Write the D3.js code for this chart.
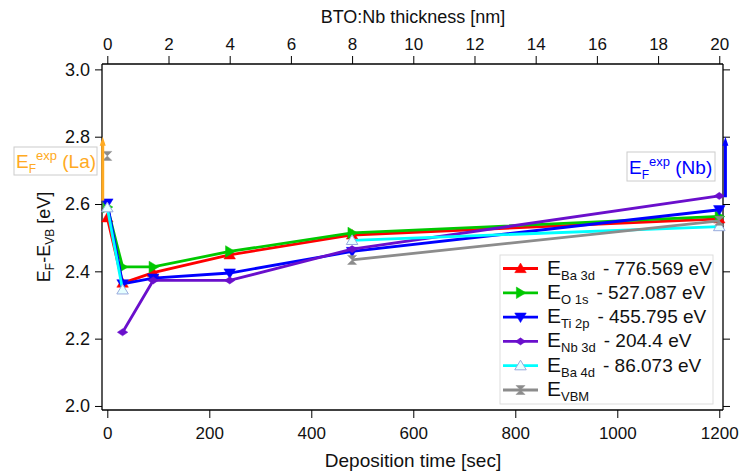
<!DOCTYPE html>
<html><head><meta charset="utf-8">
<script src="https://cdn.jsdelivr.net/npm/d3@7"></script>
<style>body{margin:0;background:#fff}svg{font-family:"Liberation Sans",Arial,sans-serif}</style>
</head><body><svg id="c" width="741" height="476"></svg>
<script>
const times = [0, 30, 90, 240, 480, 1200];
const ba3d = [2.559, 2.365, 2.396, 2.449, 2.508, 2.556];
const o1s  = [2.591, 2.413, 2.413, 2.459, 2.514, 2.563];
const ti2p = [2.603, 2.363, 2.380, 2.395, 2.459, 2.583];
const nb3d = [null, 2.219, 2.373, 2.373, 2.466, 2.624];
const ba4d = [2.589, 2.345, null, null, 2.492, 2.533];
const evbm = [2.743, null, null, null, 2.434, 2.550];
const seriesNames = ["Ba 3d", "O 1s", "Ti 2p", "Nb 3d", "Ba 4d", "VBM"];
const seriesOffsets = ["- 776.569 eV", "- 527.087 eV", "- 455.795 eV", "- 204.4 eV", "- 86.073 eV", ""];
const xTicks = [0, 200, 400, 600, 800, 1000, 1200];
const topTicks = [0, 2, 4, 6, 8, 10, 12, 14, 16, 18, 20];
const yTicks = [2.0, 2.2, 2.4, 2.6, 2.8, 3.0];
const laArrow = {t: -9, y0: 2.61, y1: 2.80};
const nbArrow = {t: 1212, y0: 2.62, y1: 2.80};

const svg = d3.select("#c");
const x = d3.scaleLinear().domain([-10.4, 1207.3]).range([102, 723]);
const xt = d3.scaleLinear().domain([-10.4/60, 1207.3/60]).range([102, 723]);
const y = d3.scaleLinear().domain([1.988, 3.016]).range([410, 64]);

const fs = 17;
const gB = svg.append("g").attr("transform","translate(0,410)")
  .call(d3.axisBottom(x).tickValues(xTicks).tickSize(8).tickPadding(9).tickFormat(d3.format("d")));
const gT = svg.append("g").attr("transform","translate(0,64)")
  .call(d3.axisTop(xt).tickValues(topTicks).tickSize(8).tickPadding(6).tickFormat(d3.format("d")));
const gL = svg.append("g").attr("transform","translate(102,0)")
  .call(d3.axisLeft(y).tickValues(yTicks).tickSize(7).tickPadding(5).tickFormat(d3.format(".1f")));
const gR = svg.append("g").attr("transform","translate(723,0)")
  .call(d3.axisRight(y).tickValues(yTicks).tickSize(7).tickFormat(""));
[gB,gT,gL,gR].forEach(g=>{
  g.selectAll("path.domain").attr("stroke","#000").attr("stroke-width",1.3);
  g.selectAll(".tick line").attr("stroke","#000").attr("stroke-width",1);
  g.selectAll(".tick text").attr("font-size",fs).attr("fill","#111").attr("font-family","Liberation Sans, Arial");
});
gL.selectAll(".tick text").attr("font-size",18);
gB.selectAll("path.domain").attr("d","M102,0H723");
gT.selectAll("path.domain").attr("d","M102,0H723");
gL.selectAll("path.domain").attr("d","M0,64V410");
gR.selectAll("path.domain").attr("d","M0,64V410");

svg.append("text").attr("x",413).attr("y",467).attr("text-anchor","middle").attr("font-size",19).attr("fill","#111").text("Deposition time [sec]");
svg.append("text").attr("x",413).attr("y",23).attr("text-anchor","middle").attr("font-size",18).attr("fill","#111").text("BTO:Nb thickness [nm]");
const yl = svg.append("text").attr("transform","translate(50,237) rotate(-90)").attr("text-anchor","middle").attr("font-size",18).attr("fill","#111");
yl.append("tspan").text("E");
yl.append("tspan").attr("font-size",12).attr("dy",4).text("F");
yl.append("tspan").attr("dy",-4).text("-E");
yl.append("tspan").attr("font-size",12).attr("dy",4).text("VB");
yl.append("tspan").attr("dy",-4).text(" [eV]");

const markerPaths = {
  up: s => `M0,${-s}L${s*1.05},${s*0.75}L${-s*1.05},${s*0.75}Z`,
  right: s => `M${s},0L${-s*0.75},${s*1.05}L${-s*0.75},${-s*1.05}Z`,
  down: s => `M0,${s}L${s*1.05},${-s*0.75}L${-s*1.05},${-s*0.75}Z`,
  diamond: s => `M0,${-s*0.65}L${s*0.95},0L0,${s*0.65}L${-s*0.95},0Z`,
  hourglass: s => `M${-s},${-s}L${s},${-s}L0,0Z M${-s},${s}L${s},${s}L0,0Z`
};
const series = [
  {vals: ba3d, color:"#ff0000", mk:"up", fill:"#ff0000"},
  {vals: o1s, color:"#00c800", mk:"right", fill:"#00c800"},
  {vals: ti2p, color:"#0000ff", mk:"down", fill:"#0000ff"},
  {vals: nb3d, color:"#6a0fcc", mk:"diamond", fill:"#6a0fcc"},
  {vals: ba4d, color:"#00ffff", mk:"up", fill:"#e6ffff", open:true},
  {vals: evbm, color:"#8c8c8c", mk:"hourglass", fill:"#8c8c8c"}
];
const line = d3.line().defined(d=>d[1]!=null).x(d=>x(d[0])).y(d=>y(d[1]));
series.forEach(s=>{
  const pts = times.map((t,i)=>[t,s.vals[i]]);
  svg.append("path").attr("d",line(pts)).attr("fill","none").attr("stroke",s.color).attr("stroke-width",2.8);
  svg.selectAll(null).data(pts.filter(d=>d[1]!=null)).enter().append("path")
    .attr("transform",d=>`translate(${x(d[0])},${y(d[1])})`)
    .attr("d",markerPaths[s.mk](s.mk==="hourglass"?4.5:5.5))
    .attr("fill",s.fill).attr("stroke",s.open?"#9ad":s.color).attr("stroke-width",s.open?1:0.5);
});

function arrow(a,color){
  const xx = x(a.t), ya = y(a.y0), yb = y(a.y1);
  svg.append("line").attr("x1",xx).attr("x2",xx).attr("y1",ya).attr("y2",yb+6).attr("stroke",color).attr("stroke-width",3);
  svg.append("path").attr("d",`M${xx},${yb}L${xx+3},${yb+9}L${xx-3},${yb+9}Z`).attr("fill",color);
}
arrow(laArrow,"#ffaa22");
arrow(nbArrow,"#0000ff");

function efLabel(bx,by,bw,bh,color,suffix){
  svg.append("rect").attr("x",bx).attr("y",by).attr("width",bw).attr("height",bh).attr("fill","#fff").attr("stroke","#ccc").attr("stroke-width",1);
  const t = svg.append("text").attr("x",bx+2).attr("y",by+bh-7).attr("font-size",19).attr("fill",color);
  t.append("tspan").text("E");
  t.append("tspan").attr("font-size",12).attr("dy",5).text("F");
  t.append("tspan").attr("font-size",13).attr("dy",-13).text("exp");
  t.append("tspan").attr("dy",8).text(" "+suffix);
}
efLabel(14,147,83,28,"#ffaa22","(La)");
efLabel(627,152,88,29,"#0000ff","(Nb)");

svg.append("rect").attr("x",500).attr("y",255).attr("width",213).attr("height",149).attr("fill","#fff").attr("stroke","#ddd").attr("stroke-width",1);
series.forEach((s,i)=>{
  const cy = 268.5 + i*24.3;
  svg.append("line").attr("x1",503).attr("x2",538).attr("y1",cy).attr("y2",cy).attr("stroke",s.color).attr("stroke-width",2.8);
  svg.append("path").attr("transform",`translate(520.5,${cy})`).attr("d",markerPaths[s.mk](s.mk==="hourglass"?4.5:5.5))
    .attr("fill",s.fill).attr("stroke",s.open?"#9ad":s.color).attr("stroke-width",s.open?1:0.5);
  const t = svg.append("text").attr("x",547).attr("y",cy+6).attr("font-size",21).attr("fill","#111");
  t.append("tspan").text("E");
  t.append("tspan").attr("font-size",13).attr("dy",5).text(seriesNames[i]);
  if(seriesOffsets[i]) t.append("tspan").attr("dy",-5).attr("dx",8).attr("font-size",19).text(seriesOffsets[i]);
});
</script></body></html>
